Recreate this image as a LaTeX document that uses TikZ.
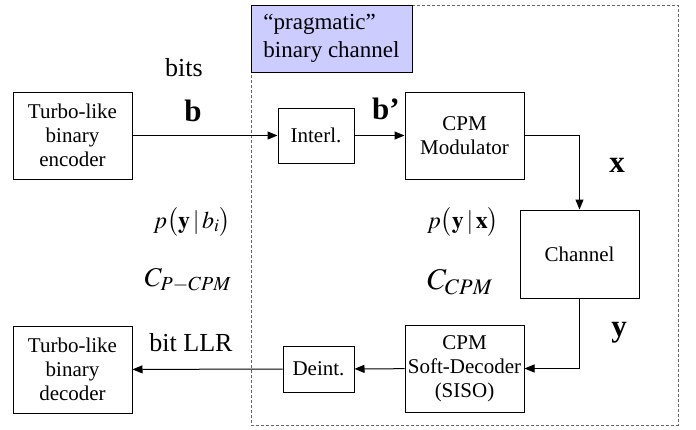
\documentclass[tikz,border=0pt]{standalone}
\usepackage{mathptmx}
\usepackage[no-math]{fontspec}
\setmainfont{Liberation Serif}
\usetikzlibrary{arrows.meta}
\definecolor{tagblue}{RGB}{204,204,255}

\begin{document}
\begin{tikzpicture}[x=1pt, y=-1pt, >={Triangle[length=10pt,width=8pt]}, line width=1pt,
    blk/.style={draw, fill=white, align=center, inner sep=0pt, font=\fontsize{21}{24}\selectfont},
    lbl/.style={font=\fontsize{26}{30}\selectfont},
    vec/.style={font=\fontsize{31}{34}\selectfont\bfseries}]
    \useasboundingbox (0,0) rectangle (696,429);
    % 虚线框（"pragmatic" binary channel）
    \draw[gray!80!black, dash pattern=on 3pt off 2pt] (251,5) rectangle (678,425);
    \node[draw, fill=tagblue, minimum width=161pt, minimum height=67pt, align=left, inner sep=0pt,
        font=\fontsize{23}{28}\selectfont] (tag) at (331.5,38.5) {“pragmatic”\\binary channel};
    
    % 方框
    \node[blk, minimum width=119pt, minimum height=87pt] (enc) at (72.5,135.5) {Turbo-like\\binary\\encoder};
    \node[blk, minimum width=76pt, minimum height=55pt] (interl) at (316,135.5) {Interl.};
    \node[blk, minimum width=119pt, minimum height=87pt] (mod) at (464.5,135.5) {CPM\\Modulator};
    \node[blk, minimum width=119pt, minimum height=88pt] (chan) at (579.5,254) {Channel};
    \node[blk, minimum width=119pt, minimum height=87pt] (siso) at (464.5,368.5) {CPM\\Soft-Decoder\\(SISO)};
    \node[blk, minimum width=71pt, minimum height=46pt] (deint) at (318.5,369) {Deint.};
    \node[blk, minimum width=119pt, minimum height=87pt] (dec) at (72.5,369.5) {Turbo-like\\binary\\decoder};
    
    % 连线
    \draw[->] (enc) -- (interl);
    \draw[->] (interl) -- (mod);
    \draw[->] (mod.east) -| (chan.north);
    \draw[->] (chan.south) |- (siso.east);
    \draw[->] (siso) -- (deint);
    \draw[->] (deint) -- (dec);
    
    % 标注
    \node[lbl] (bits) at (184,68) {bits};
    \node[vec] (lb) at (193,111) {b};
    \node[vec] (lbp) at (386,109) {b’};
    \node[vec] (lx) at (617,165) {x};
    \node[vec] (ly) at (619,333) {y};
    \node[font=\fontsize{24}{28}\selectfont] (pyb) at (192,222) {$p\bigl(\mathbf{y}\,|\,b_i\bigr)$};
    \node[font=\fontsize{27}{32}\selectfont] (cpc) at (188,280) {$C_{P-CPM}$};
    \node[font=\fontsize{24}{28}\selectfont] (pyx) at (463,222) {$p\bigl(\mathbf{y}\,|\,\mathbf{x}\bigr)$};
    \node[font=\fontsize{30}{34}\selectfont] (cc) at (460,282) {$C_{CPM}$};
    \node[lbl] (llr) at (191,343) {bit LLR};
\end{tikzpicture}
\end{document}
